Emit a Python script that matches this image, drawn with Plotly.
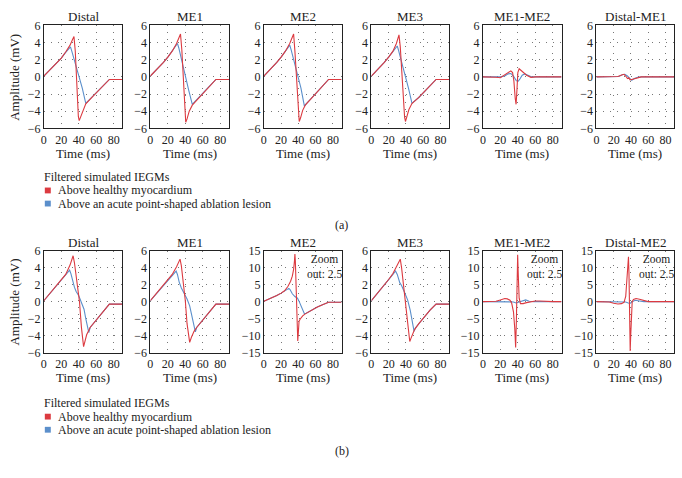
import plotly.graph_objects as go

W, H = 682, 478
RED = '#dc3a40'
BLUE = '#5b8fcb'
FONT = 'Liberation Serif'

# ---- (a) filtered simulated IEGMs, top row ----
A_DISTAL_RED_T = [0, 5, 10, 15, 20, 25, 30, 33, 34.5, 36, 38, 39.5, 40.5, 41.5, 44.5, 48, 55, 62, 68, 75, 80, 90]
A_DISTAL_RED_V = [0.1, 0.6, 1.1, 1.6, 2.2, 2.9, 3.7, 4.4, 4.7, 3.0, -1.5, -4.6, -5.1, -4.85, -3.9, -3.15, -2.4, -1.65, -1.05, -0.3, -0.3, -0.3]
A_DISTAL_BLUE_T = [0, 5, 10, 15, 20, 25, 28, 30.5, 32, 36, 40, 44, 48, 55, 62, 68, 75, 80, 90]
A_DISTAL_BLUE_V = [0.1, 0.6, 1.1, 1.6, 2.2, 2.85, 3.25, 3.5, 3.0, 1.6, 0.2, -1.3, -3.1, -2.4, -1.65, -1.05, -0.3, -0.3, -0.3]

A_ME1_RED_T = [0, 5, 10, 15, 20, 25, 30, 33, 34.5, 36, 38, 39.5, 40.5, 42, 44.5, 48, 55, 62, 68, 75, 80, 90]
A_ME1_RED_V = [0.1, 0.6, 1.2, 1.7, 2.3, 3.0, 3.9, 4.7, 5.0, 3.2, -1.0, -4.6, -5.3, -4.9, -4.0, -3.3, -2.5, -1.7, -1.05, -0.3, -0.3, -0.3]
A_ME1_BLUE_T = [0, 5, 10, 15, 20, 25, 28, 31, 32.5, 36, 40, 44, 48, 55, 62, 68, 75, 80, 90]
A_ME1_BLUE_V = [0.1, 0.6, 1.2, 1.7, 2.3, 3.0, 3.5, 3.9, 3.4, 1.8, 0.0, -1.6, -3.2, -2.5, -1.7, -1.05, -0.3, -0.3, -0.3]

A_ME2_RED_T = [0, 5, 10, 15, 20, 25, 30, 33, 34.5, 36, 38.5, 40, 41, 42.5, 45, 48, 55, 62, 68, 75, 80, 90]
A_ME2_RED_V = [0.1, 0.6, 1.2, 1.7, 2.3, 3.0, 3.9, 4.7, 5.0, 3.0, -1.8, -4.6, -5.2, -4.8, -3.9, -3.3, -2.5, -1.7, -1.05, -0.3, -0.3, -0.3]
A_ME2_BLUE_T = [0, 5, 10, 15, 20, 25, 28, 30, 31.5, 35, 39, 43, 47, 48.5, 55, 62, 68, 75, 80, 90]
A_ME2_BLUE_V = [0.1, 0.6, 1.2, 1.7, 2.3, 3.0, 3.5, 3.7, 3.2, 1.9, 0.4, -1.3, -3.4, -3.2, -2.5, -1.7, -1.05, -0.3, -0.3, -0.3]

A_ME3_RED_T = [0, 5, 10, 15, 20, 25, 29, 31, 32, 33.5, 36, 38.5, 39.5, 41, 43.5, 47, 55, 62, 68, 75, 80, 90]
A_ME3_RED_V = [0.1, 0.6, 1.2, 1.7, 2.3, 3.0, 3.9, 4.6, 4.9, 3.5, -1.0, -4.7, -5.2, -4.7, -3.8, -3.1, -2.4, -1.65, -1.0, -0.3, -0.3, -0.3]
A_ME3_BLUE_T = [0, 5, 10, 15, 20, 25, 28, 30, 31.5, 35, 39, 43, 47, 48.5, 55, 62, 68, 75, 80, 90]
A_ME3_BLUE_V = [0.1, 0.6, 1.2, 1.7, 2.3, 3.0, 3.4, 3.6, 3.1, 1.8, 0.3, -1.3, -3.05, -2.95, -2.4, -1.65, -1.0, -0.3, -0.3, -0.3]

A_ME1ME2_RED_T = [0, 10, 15, 20, 25, 30, 32, 34, 35.5, 37, 38, 39, 40, 41.5, 43, 46, 50, 55, 60, 90]
A_ME1ME2_RED_V = [0, 0, -0.05, -0.1, 0.2, 0.6, 0.7, 0.5, -0.5, -2.5, -3.2, -1.5, 0.5, 0.95, 0.8, 0.5, 0.2, -0.05, 0, 0]
A_ME1ME2_BLUE_T = [0, 20, 25, 29, 32, 35, 38, 40, 42, 45, 48, 52, 56, 90]
A_ME1ME2_BLUE_V = [0, 0, 0.1, 0.35, 0.4, 0.1, -0.4, -0.55, -0.3, 0.2, 0.35, 0.2, 0, 0]

A_DISTME1_RED_T = [0, 20, 25, 30, 32, 34, 36, 37.5, 39, 41, 44, 48, 52, 90]
A_DISTME1_RED_V = [0, 0, 0.05, 0.25, 0.3, 0.1, -0.2, -0.1, -0.35, -0.3, -0.2, -0.05, 0, 0]
A_DISTME1_BLUE_T = [0, 20, 26, 30, 33, 36, 39, 41, 44, 48, 52, 90]
A_DISTME1_BLUE_V = [0, 0, 0.05, 0.25, 0.3, 0.1, -0.2, -0.4, -0.2, -0.05, 0, 0]

# ---- (b) bottom row ----
B_DISTAL_RED_T = [0, 5, 10, 15, 20, 25, 30, 32, 33.5, 35, 37.7, 40.8, 43, 44.5, 45.5, 47, 49, 53, 58, 64, 70, 75, 80, 90]
B_DISTAL_RED_V = [0.1, 0.7, 1.3, 1.9, 2.5, 3.2, 4.3, 4.9, 5.4, 4.6, 2.6, 0.0, -3.0, -4.9, -5.3, -4.7, -3.9, -3.05, -2.4, -1.65, -0.95, -0.3, -0.3, -0.3]
B_DISTAL_BLUE_T = [0, 5, 10, 15, 20, 25, 28, 29.5, 31, 33, 35, 37, 40, 43, 46, 48, 50, 51.5, 53, 58, 64, 70, 75, 80, 90]
B_DISTAL_BLUE_V = [0.1, 0.7, 1.3, 1.9, 2.5, 3.1, 3.55, 3.7, 3.3, 2.3, 1.7, 1.2, 0.7, -0.1, -0.9, -2.0, -3.2, -3.65, -3.05, -2.4, -1.65, -0.95, -0.3, -0.3, -0.3]

B_ME1_RED_T = [0, 5, 10, 15, 20, 25, 30, 32.5, 34, 35.5, 38, 40, 42, 44, 45, 47, 50, 53, 58, 64, 70, 75, 80, 90]
B_ME1_RED_V = [0.1, 0.7, 1.3, 1.9, 2.5, 3.2, 4.1, 4.7, 5.0, 4.2, 2.0, 0.1, -2.6, -4.6, -4.8, -4.2, -3.5, -3.05, -2.4, -1.65, -0.95, -0.3, -0.3, -0.3]
B_ME1_BLUE_T = [0, 5, 10, 15, 20, 25, 28, 29.5, 31, 33, 35.5, 38, 42, 45, 48, 50, 51.5, 53, 58, 64, 70, 75, 80, 90]
B_ME1_BLUE_V = [0.1, 0.7, 1.3, 1.9, 2.5, 3.1, 3.5, 3.6, 3.2, 2.3, 1.6, 1.1, 0.3, -0.5, -1.8, -3.0, -3.55, -3.05, -2.4, -1.65, -0.95, -0.3, -0.3, -0.3]

B_ME2_RED_T = [0, 5, 10, 15, 20, 24, 28, 31, 33, 34.5, 35.5, 36, 36.5, 37.5, 38.5, 39.3, 40, 40.8, 42, 45, 48, 55, 62, 68, 75, 80, 90]
B_ME2_RED_V = [0.1, 0.6, 1.2, 1.8, 2.5, 3.2, 4.5, 6.0, 7.5, 9.5, 12.0, 14.0, 12.0, 4.0, -5.0, -11.6, -9.0, -5.8, -5.2, -4.2, -3.6, -2.5, -1.6, -0.9, -0.2, -0.2, -0.2]
B_ME2_BLUE_T = [0, 5, 10, 15, 20, 25, 29, 30.5, 33, 36, 39, 41, 43, 45, 47, 49, 55, 62, 68, 75, 80, 90]
B_ME2_BLUE_V = [0.1, 0.6, 1.2, 1.8, 2.5, 3.2, 3.9, 3.5, 2.3, 1.5, 1.0, 0.0, -1.2, -2.6, -3.6, -3.4, -2.5, -1.6, -0.9, -0.2, -0.2, -0.2]

B_ME3_RED_T = [0, 5, 10, 15, 20, 25, 30, 32, 33.5, 35, 37, 39, 41, 43, 44.5, 46, 48, 50, 55, 62, 68, 75, 80, 90]
B_ME3_RED_V = [0.1, 0.7, 1.3, 1.9, 2.6, 3.3, 4.3, 4.8, 5.0, 4.0, 2.2, 0.2, -2.0, -3.9, -4.7, -4.3, -3.7, -3.3, -2.6, -1.7, -1.0, -0.3, -0.3, -0.3]
B_ME3_BLUE_T = [0, 5, 10, 15, 20, 25, 28, 30, 33, 35, 38, 42, 45, 47.5, 49.5, 51, 55, 62, 68, 75, 80, 90]
B_ME3_BLUE_V = [0.1, 0.7, 1.3, 1.9, 2.6, 3.2, 3.6, 3.2, 2.2, 1.9, 1.2, 0.2, -1.0, -2.2, -3.5, -3.1, -2.6, -1.7, -1.0, -0.3, -0.3, -0.3]

B_ME1ME2_RED_T = [0, 10, 15, 20, 25, 28, 31, 33, 35, 36.5, 37.5, 38.3, 39, 39.8, 40.5, 41.5, 43, 46, 50, 55, 60, 65, 70, 80, 90]
B_ME1ME2_RED_V = [0, 0, 0.1, 0.5, 0.9, 0.8, 0.4, -0.5, -3.0, -8.0, -13.5, -6.0, 5.0, 13.8, 8.0, 1.0, -0.6, -0.6, -0.3, 0, 0.2, 0.2, 0.1, 0, 0]
B_ME1ME2_BLUE_T = [0, 28, 32, 35, 38, 41, 45, 49, 53, 58, 90]
B_ME1ME2_BLUE_V = [0, 0, 0.1, -0.1, -0.4, -0.1, 0.2, 0.5, 0.1, 0, 0]

B_DISTME2_RED_T = [0, 10, 15, 20, 25, 29, 32, 34, 35.5, 36.5, 37.2, 37.8, 38.3, 38.8, 39.2, 39.8, 40.5, 41.5, 43, 46, 50, 55, 60, 90]
B_DISTME2_RED_V = [0, 0, -0.1, -0.5, -0.7, -0.6, -0.2, 1.5, 6.0, 11.0, 13.2, 8.0, -2.0, -10.0, -14.5, -10.0, -3.0, 0, 0.6, 0.9, 0.7, 0.3, 0, 0]
B_DISTME2_BLUE_T = [0, 30, 34, 37, 39, 42, 45, 50, 55, 90]
B_DISTME2_BLUE_V = [0, 0, -0.1, -0.4, -0.5, 0, 0.4, 0.2, 0, 0]

TITLES_A = ['Distal', 'ME1', 'ME2', 'ME3', 'ME1-ME2', 'Distal-ME1']
TITLES_B = ['Distal', 'ME1', 'ME2', 'ME3', 'ME1-ME2', 'Distal-ME2']
TIME_TICKS = [0, 20, 40, 60, 80]
AMP_TICKS = [-6, -4, -2, 0, 2, 4, 6]
AMP_TICKS_ZOOM = [-15, -10, -5, 0, 5, 10, 15]
LEGEND_TITLE = 'Filtered simulated IEGMs'
LEGEND_LABELS = ['Above healthy myocardium', 'Above an acute point-shaped ablation lesion']

panels = [
    (A_DISTAL_RED_T, A_DISTAL_RED_V, A_DISTAL_BLUE_T, A_DISTAL_BLUE_V, False),
    (A_ME1_RED_T, A_ME1_RED_V, A_ME1_BLUE_T, A_ME1_BLUE_V, False),
    (A_ME2_RED_T, A_ME2_RED_V, A_ME2_BLUE_T, A_ME2_BLUE_V, False),
    (A_ME3_RED_T, A_ME3_RED_V, A_ME3_BLUE_T, A_ME3_BLUE_V, False),
    (A_ME1ME2_RED_T, A_ME1ME2_RED_V, A_ME1ME2_BLUE_T, A_ME1ME2_BLUE_V, False),
    (A_DISTME1_RED_T, A_DISTME1_RED_V, A_DISTME1_BLUE_T, A_DISTME1_BLUE_V, False),
    (B_DISTAL_RED_T, B_DISTAL_RED_V, B_DISTAL_BLUE_T, B_DISTAL_BLUE_V, False),
    (B_ME1_RED_T, B_ME1_RED_V, B_ME1_BLUE_T, B_ME1_BLUE_V, False),
    (B_ME2_RED_T, B_ME2_RED_V, B_ME2_BLUE_T, B_ME2_BLUE_V, True),
    (B_ME3_RED_T, B_ME3_RED_V, B_ME3_BLUE_T, B_ME3_BLUE_V, False),
    (B_ME1ME2_RED_T, B_ME1ME2_RED_V, B_ME1ME2_BLUE_T, B_ME1ME2_BLUE_V, True),
    (B_DISTME2_RED_T, B_DISTME2_RED_V, B_DISTME2_BLUE_T, B_DISTME2_BLUE_V, True),
]
titles = TITLES_A + TITLES_B

# pixel boxes of the plot areas
cols = [(41, 120), (148, 227), (262, 340), (370, 448), (482, 561), (596, 674)]
rows = [(19, 125), (251, 356)]


def px_x(p):
    return p / W


def px_y(p):
    return 1 - p / H


fig = go.Figure()
annotations = []
shapes = []
font = dict(family=FONT, size=12, color='#222')
tick_font = dict(family=FONT, size=12, color='#222')

for i, (rt, rv, bt, bv, zoomed) in enumerate(panels):
    r, c = divmod(i, 6)
    n = '' if i == 0 else str(i + 1)
    x0, x1 = cols[c]
    y0, y1 = rows[r]
    # blue under red
    fig.add_trace(go.Scatter(x=bt, y=bv, mode='lines', line=dict(color=BLUE, width=1.1),
                             xaxis='x' + n, yaxis='y' + n, showlegend=False))
    fig.add_trace(go.Scatter(x=rt, y=rv, mode='lines', line=dict(color=RED, width=1.1),
                             xaxis='x' + n, yaxis='y' + n, showlegend=False))
    grid = dict(showgrid=True, gridcolor='#777', griddash='1px,6px', gridwidth=1,
                zeroline=False, showline=True, mirror=True, linecolor='#222', linewidth=1,
                ticks='', tickfont=tick_font)
    fig.update_layout(**{
        'xaxis' + n: dict(domain=[px_x(x0), px_x(x1)], anchor='y' + n, range=[0, 90],
                          tickvals=TIME_TICKS, **grid),
        'yaxis' + n: dict(domain=[px_y(y1), px_y(y0)], anchor='x' + n,
                          range=[-15, 15] if zoomed else [-6, 6],
                          tickvals=AMP_TICKS_ZOOM if zoomed else AMP_TICKS, **grid),
    })
    xc = px_x((x0 + x1) / 2)
    annotations.append(dict(text=titles[i], x=xc, y=px_y(y0), xref='paper', yref='paper',
                            xanchor='center', yanchor='bottom', showarrow=False, borderpad=0,
                            font=dict(family=FONT, size=13, color='#222')))
    annotations.append(dict(text='Time (ms)', x=xc, y=px_y(y1 + 26), xref='paper', yref='paper',
                            xanchor='center', yanchor='middle', showarrow=False,
                            font=dict(family=FONT, size=13, color='#222')))
    if zoomed:
        annotations.append(dict(text='Zoom<br>out: 2.5', x=px_x(x1 + 1), y=px_y(y0 + 1),
                                xref='paper', yref='paper', xanchor='right', yanchor='top',
                                align='center', showarrow=False, borderpad=0,
                                font=dict(family=FONT, size=11.5, color='#222')))

# y axis titles
for y0, y1 in rows:
    annotations.append(dict(text='Amplitude (mV)', x=px_x(12), y=px_y((y0 + y1) / 2),
                            xref='paper', yref='paper', textangle=-90, showarrow=False,
                            xanchor='center', yanchor='middle',
                            font=dict(family=FONT, size=13, color='#222')))

# legends and panel tags
for ly, tag, tag_y in [(175, '(a)', 225), (408, '(b)', 457)]:
    annotations.append(dict(text=LEGEND_TITLE, x=px_x(39), y=px_y(ly), xref='paper', yref='paper',
                            xanchor='left', yanchor='middle', showarrow=False, font=font))
    for k, (label, color) in enumerate(zip(LEGEND_LABELS, [RED, BLUE])):
        yy = ly + 14 + k * 13.5
        shapes.append(dict(type='rect', xref='paper', yref='paper', x0=px_x(42), x1=px_x(48),
                           y0=px_y(yy + 3), y1=px_y(yy - 3), fillcolor=color, line_width=0))
        annotations.append(dict(text=label, x=px_x(53), y=px_y(yy), xref='paper', yref='paper',
                                xanchor='left', yanchor='middle', showarrow=False, font=font))
    annotations.append(dict(text=tag, x=px_x(340), y=px_y(tag_y), xref='paper', yref='paper',
                            xanchor='center', yanchor='middle', showarrow=False, font=font))

fig.update_layout(width=W, height=H, margin=dict(l=0, r=0, t=0, b=0),
                  paper_bgcolor='white', plot_bgcolor='white',
                  annotations=annotations, shapes=shapes, font=font)

fig.write_html('out.html', config={'displayModeBar': False},
               post_script="document.body.style.margin='0';")
